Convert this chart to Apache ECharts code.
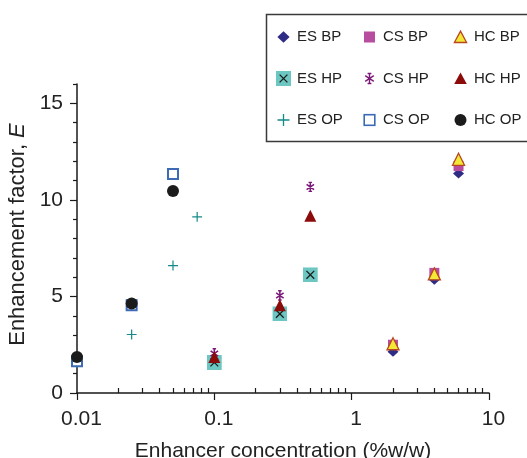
<!DOCTYPE html>
<html>
<head>
<meta charset="utf-8">
<script src="https://cdn.jsdelivr.net/npm/echarts@6/dist/echarts.min.js"></script>
<style>html,body{margin:0;padding:0;background:#fff;}#c{width:527px;height:458px;}</style>
</head>
<body>
<div id="c"></div>
<script>
// ---- data ----
var concBP = [2, 4, 6];
var concHP = [0.1, 0.3, 0.5];
var concOP = [0.01, 0.025, 0.05];
var concESOP = [0.01, 0.025, 0.05, 0.075];

var esBP = [2.13, 5.86, 11.36];
var csBP = [2.50, 6.22, 11.75];
var hcBP = [2.55, 6.17, 12.10];
var esHP = [1.58, 4.10, 6.12];
var csHP = [2.05, 5.05, 10.67];
var hcHP = [1.87, 4.54, 9.18];
var esOP = [1.55, 3.03, 6.60, 9.12];
var csOP = [1.65, 4.55, 11.34];
var hcOP = [1.86, 4.63, 10.46];

var xTickLabels = [0.01, 0.1, 1, 10];
var xMinorTicks = [0.02,0.03,0.04,0.05,0.06,0.07,0.08,0.09,0.2,0.3,0.4,0.5,0.6,0.7,0.8,0.9,2,3,4,5,6,7,8,9];
var yTickLabels = [0, 5, 10, 15];
var yMinorTicks = [1,2,3,4,6,7,8,9,11,12,13,14,16];

var legendCols = [['ES BP', 'ES HP', 'ES OP'], ['CS BP', 'CS HP', 'CS OP'], ['HC BP', 'HC HP', 'HC OP']];

function pairs(xs, ys) { return xs.map(function (x, i) { return [x, ys[i]]; }); }
function svgImg(s) { return 'image://data:image/svg+xml;charset=utf-8,' + encodeURIComponent(s); }
function svg15(body) { return svgImg("<svg xmlns='http://www.w3.org/2000/svg' width='45' height='45' viewBox='0 0 15 15'>" + body + "</svg>"); }

var C = {
  esBP: '#2e2c85', csBP: '#b84d9f', hcBPfill: '#f3e836', hcBPline: '#b8461e',
  esHP: '#6cc6c1', csHP: '#7c1a7a', hcHP: '#8b0b0b', esOP: '#15898a', csOP: '#3d6ab5', hcOP: '#1b1b1b'
};

var symESHP = svgImg("<svg xmlns='http://www.w3.org/2000/svg' width='30' height='30' viewBox='0 0 15 15'><rect width='15' height='15' fill='" + C.esHP + "'/><path d='M3.6 3.6L11.4 11.4M11.4 3.6L3.6 11.4' stroke='#1b1b1b' stroke-width='1.3' fill='none'/></svg>");
var symCSHP = svgImg("<svg xmlns='http://www.w3.org/2000/svg' width='30' height='30' viewBox='0 0 10 10'><path d='M5 0.8L5 9.2M1.6 2.6L8.4 7.4M8.4 2.6L1.6 7.4M3.4 0.8L6.6 0.8M3.4 9.2L6.6 9.2' stroke='" + C.csHP + "' stroke-width='1.4' fill='none'/></svg>");
var symESOP = svgImg("<svg xmlns='http://www.w3.org/2000/svg' width='30' height='30' viewBox='0 0 10 10'><path d='M5 0.5L5 9.5M0.5 5L9.5 5' stroke='" + C.esOP + "' stroke-width='1.1' fill='none'/></svg>");

// legend icons (15x15 box each)
var legendIcons = {
  'ES BP': svg15("<polygon points='7.5,1.8 13.6,7.5 7.5,13.2 1.4,7.5' fill='" + C.esBP + "'/>"),
  'CS BP': svg15("<rect x='2' y='2' width='11' height='11' fill='" + C.csBP + "'/>"),
  'HC BP': svg15("<polygon points='7.5,1.6 13.6,13 1.4,13' fill='" + C.hcBPfill + "' stroke='" + C.hcBPline + "' stroke-width='1.3'/>"),
  'ES HP': svg15("<rect width='15' height='15' fill='" + C.esHP + "'/><path d='M3.6 3.6L11.4 11.4M11.4 3.6L3.6 11.4' stroke='#1b1b1b' stroke-width='1.3' fill='none'/>"),
  'CS HP': svg15("<path d='M7.5 2.5L7.5 12.5M3.2 4.6L11.8 10.4M11.8 4.6L3.2 10.4M5.6 2.5L9.4 2.5M5.6 12.5L9.4 12.5' stroke='" + C.csHP + "' stroke-width='1.4' fill='none'/>"),
  'HC HP': svg15("<polygon points='7.5,1.6 13.8,13 1.2,13' fill='" + C.hcHP + "'/>"),
  'ES OP': svg15("<path d='M7.5 1.5L7.5 13.5M1.5 7.5L13.5 7.5' stroke='" + C.esOP + "' stroke-width='1.3' fill='none'/>"),
  'CS OP': svg15("<rect x='2.2' y='2.2' width='10.6' height='10.6' fill='#fff' stroke='" + C.csOP + "' stroke-width='1.6'/>"),
  'HC OP': svg15("<circle cx='7.5' cy='7.5' r='6' fill='" + C.hcOP + "'/>")
};

var FONT = "'Liberation Sans', Arial, Helvetica, sans-serif";

var chart = echarts.init(document.getElementById('c'));

function sc(name, data, symbol, size, style) {
  var st = Object.assign({ opacity: 1 }, style || {});
  return { name: name, type: 'scatter', data: data, symbol: symbol, symbolSize: size,
           itemStyle: st, xAxisIndex: 0, yAxisIndex: 0, emphasis: { disabled: true } };
}

function legendCol(left, names) {
  return {
    orient: 'vertical', left: left, top: 29.5, padding: 0, itemGap: 26.5,
    itemWidth: 15, itemHeight: 15, selectedMode: false,
    data: names.map(function (n) { return { name: n, icon: legendIcons[n] }; }),
    textStyle: { fontFamily: FONT, fontSize: 15, color: '#222', padding: [0, 0, 0, 1] }
  };
}

chart.setOption({
  animation: false,
  backgroundColor: '#fff',
  grid: { left: 77, right: 38, top: 84, bottom: 65, containLabel: false, outerBoundsMode: 'none' },
  legend: [
    legendCol(276, legendCols[0]),
    legendCol(362, legendCols[1]),
    legendCol(453, legendCols[2])
  ],
  graphic: [{
    type: 'rect', shape: { x: 266.5, y: 14.5, width: 290, height: 127 },
    style: { fill: 'none', stroke: '#3a3a3a', lineWidth: 1.5 }, z: 10
  }],
  xAxis: [{
    type: 'log', logBase: 10, min: 0.01, max: 10, position: 'bottom',
    name: 'Enhancer concentration (%w/w)', nameLocation: 'middle', nameGap: 48,
    nameTextStyle: { fontFamily: FONT, fontSize: 21, color: '#222' },
    axisLine: { lineStyle: { color: '#1a1a1a', width: 1.5 } },
    axisTick: { show: true, inside: false, length: 7, customValues: xTickLabels, lineStyle: { color: '#1a1a1a', width: 1.2 } },
    axisLabel: { customValues: xTickLabels, fontFamily: FONT, fontSize: 21, color: '#222', margin: 16,
                 padding: [0, 0, 0, 9],
                 formatter: function (v) { var i = xTickLabels.findIndex(function (t) { return Math.abs(t - v) / t < 1e-6; }); return i >= 0 ? String(xTickLabels[i]) : ''; } },
    splitLine: { show: false }, minorTick: { show: false }, minorSplitLine: { show: false }
  }, {
    type: 'log', logBase: 10, min: 0.01, max: 10, position: 'bottom', gridIndex: 0,
    axisLine: { show: false },
    axisTick: { show: true, inside: true, length: 5, customValues: xMinorTicks, lineStyle: { color: '#1a1a1a', width: 1.2 } },
    axisLabel: { show: false }, splitLine: { show: false }
  }],
  yAxis: [{
    type: 'value', min: 0, max: 16, interval: 5, position: 'left',
    name: 'Enhancement factor, {i|E}', nameLocation: 'middle', nameGap: 45,
    nameTextStyle: { fontFamily: FONT, fontSize: 22, color: '#222', padding: [0, 0, 0, 8],
                     rich: { i: { fontFamily: FONT, fontSize: 22, color: '#222', fontStyle: 'italic' } } },
    axisLine: { show: true, lineStyle: { color: '#1a1a1a', width: 1.5 } },
    axisTick: { show: true, inside: false, length: 7, customValues: yTickLabels, lineStyle: { color: '#1a1a1a', width: 1.2 } },
    axisLabel: { customValues: yTickLabels, fontFamily: FONT, fontSize: 21, color: '#222', margin: 14 },
    splitLine: { show: false }
  }, {
    type: 'value', min: 0, max: 16, interval: 5, position: 'left', gridIndex: 0,
    axisLine: { show: false },
    axisTick: { show: true, inside: false, length: 4, customValues: yMinorTicks, lineStyle: { color: '#1a1a1a', width: 1.2 } },
    axisLabel: { show: false }, splitLine: { show: false }
  }],
  series: [
    sc('ES BP', pairs(concBP, esBP), 'diamond', [11, 10], { color: C.esBP }),
    sc('CS BP', pairs(concBP, csBP), 'rect', 10, { color: C.csBP }),
    sc('HC BP', pairs(concBP, hcBP), 'triangle', 12, { color: C.hcBPfill, borderColor: C.hcBPline, borderWidth: 1.3 }),
    sc('ES HP', pairs(concHP, esHP), symESHP, 15),
    sc('CS HP', pairs(concHP, csHP), symCSHP, 11),
    sc('HC HP', pairs(concHP, hcHP), 'triangle', 12, { color: C.hcHP }),
    sc('ES OP', pairs(concESOP, esOP), symESOP, 11),
    sc('CS OP', pairs(concOP, csOP), 'emptyRect', 10, { color: C.csOP, borderWidth: 1.6 }),
    sc('HC OP', pairs(concOP, hcOP), 'circle', 12, { color: C.hcOP })
  ]
});
</script>
</body>
</html>
